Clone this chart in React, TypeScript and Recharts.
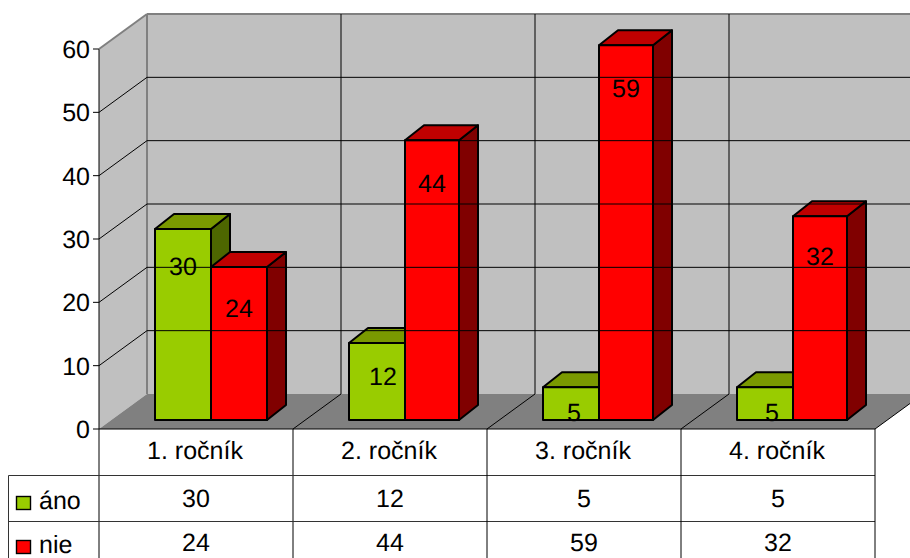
import { Bar, BarChart, XAxis, YAxis } from "recharts";

const categories = ["1. ročník", "2. ročník", "3. ročník", "4. ročník"];
const anoValues = [30, 12, 5, 5];
const nieValues = [24, 44, 59, 32];
const yTicks = [0, 10, 20, 30, 40, 50, 60];

const FONT = "'Liberation Sans', Arial, sans-serif";
const FONT_SIZE = 25;

const WIDTH = 910;
const HEIGHT = 558;
const LEFT = 99;
const RIGHT = 875;
const TOP = 49;
const BOTTOM = 429;
const CELL = (RIGHT - LEFT) / categories.length;

// oblique offset of the back wall, and of the bars inside the box
const DEPTH_X = 48;
const DEPTH_Y = 35;
const BAR_SHIFT_X = 15;
const BAR_SHIFT_Y = 9;
const BAR_DEPTH_X = 19;
const BAR_DEPTH_Y = 15;
const BAR_TOP_PAD = 1;

const ROW_LINES = [475.5, 521.5];
const HEADER_BASE = 459;
const ANO_BASE = 507;
const NIE_BASE = 551;

const data = categories.map((name, i) => ({ name, ano: anoValues[i], nie: nieValues[i] }));

// how far below the bar top the value sits, the old office renderer was not consistent about it
const labelDrop = (height: number) => {
  if (height < 50) return 25;
  if (height < 100) return 33;
  if (height < 160) return 41;
  if (height < 200) return 37;
  if (height < 250) return 40;
  return 43;
};
const anoLabelNudge = [0, 6, 3, 7];
const nieWidthTrim = [0, 2, 2, 2];

function bar3d(front: string, top: string, side: string, nudge: number[] = [], trim: number[] = []) {
  return function Bar3d(props: any) {
    const { value, index } = props;
    const width = props.width - (trim[index] ?? 0);
    const height = props.height + BAR_TOP_PAD;
    const x = props.x + BAR_SHIFT_X;
    const y = props.y - BAR_SHIFT_Y - BAR_TOP_PAD;
    const r = x + width;
    const b = y + height;
    const dx = BAR_DEPTH_X;
    const dy = BAR_DEPTH_Y;
    return (
      <g stroke="#000" strokeWidth={2} strokeLinejoin="round">
        <polygon points={`${r},${y} ${r + dx},${y - dy} ${r + dx},${b - dy} ${r},${b}`} fill={side} />
        <polygon points={`${x},${y} ${x + dx},${y - dy} ${r + dx},${y - dy} ${r},${y}`} fill={top} />
        <rect x={x} y={y} width={width} height={height} fill={front} />
        <text
          x={x + width / 2 + (nudge[index] ?? 0)}
          y={y + labelDrop(height) + 9}
          textAnchor="middle"
          stroke="none"
          fill="#000"
          fontSize={FONT_SIZE}
          fontFamily={FONT}
          textRendering="geometricPrecision"
        >
          {value}
        </text>
      </g>
    );
  };
}

function YTick({ x, y, payload }: any) {
  const isTop = payload.value === yTicks[yTicks.length - 1];
  const isBase = payload.value === 0;
  const lineColor = isTop ? "#808080" : "#000";
  return (
    <g>
      <line x1={LEFT - 6} x2={LEFT} y1={y} y2={y} stroke="#000" />
      {!isBase && (
        <>
          <line x1={LEFT} y1={y} x2={LEFT + DEPTH_X} y2={y - DEPTH_Y} stroke={lineColor} strokeWidth={isTop ? 2 : 1} />
          {!isTop && <line x1={LEFT + DEPTH_X} y1={y - DEPTH_Y} x2={WIDTH} y2={y - DEPTH_Y} stroke="#000" />}
        </>
      )}
      <text x={x - 1} y={y + 9} textAnchor="end" fontSize={FONT_SIZE} fontFamily={FONT} fill="#000" textRendering="geometricPrecision">
        {payload.value}
      </text>
    </g>
  );
}

function TableTick({ x, index, payload }: any) {
  const cx = x;
  const cellRight = cx + CELL / 2;
  const isLast = index === categories.length - 1;
  return (
    <g fontFamily={FONT} fontSize={FONT_SIZE} fill="#000" textAnchor="middle" textRendering="geometricPrecision">
      <line x1={cellRight} y1={BOTTOM} x2={cellRight} y2={HEIGHT} stroke="#000" />
      <line x1={cellRight} y1={BOTTOM} x2={cellRight + DEPTH_X} y2={BOTTOM - DEPTH_Y} stroke="#000" />
      {!isLast && <line x1={cellRight + DEPTH_X} y1={BOTTOM - DEPTH_Y} x2={cellRight + DEPTH_X} y2={14} stroke="#000" />}
      <text x={cx - 1} y={HEADER_BASE}>{payload.value}</text>
      <text x={cx} y={ANO_BASE}>{anoValues[index]}</text>
      <text x={cx} y={NIE_BASE}>{nieValues[index]}</text>
      {index === 0 && (
        <g textAnchor="start">
          <line x1={LEFT} y1={TOP} x2={LEFT} y2={HEIGHT} stroke="#000" />
          <line x1={LEFT} y1={BOTTOM} x2={RIGHT} y2={BOTTOM} stroke="#000" />
          {ROW_LINES.map((ly) => (
            <line key={ly} x1={8.5} y1={ly} x2={RIGHT} y2={ly} stroke="#333" />
          ))}
          <line x1={8.5} y1={ROW_LINES[0]} x2={8.5} y2={HEIGHT} stroke="#333" />
          <rect x={16.5} y={496.5} width={14} height={13} fill="#99cc00" stroke="#000" strokeWidth={1.4} />
          <rect x={16.5} y={540.5} width={14} height={13} fill="#ff0000" stroke="#000" strokeWidth={1.4} />
          <text x={39} y={509}>áno</text>
          <text x={39} y={553}>nie</text>
        </g>
      )}
    </g>
  );
}

function Backdrop() {
  const bx = LEFT + DEPTH_X;
  const by = BOTTOM - DEPTH_Y;
  const ty = TOP - DEPTH_Y;
  return (
    <svg width={WIDTH} height={HEIGHT} style={{ position: "absolute", left: 0, top: 0 }}>
      <rect x={bx} y={ty} width={WIDTH - bx} height={by - ty} fill="#c0c0c0" />
      <polygon points={`${LEFT},${TOP} ${bx},${ty} ${bx},${by} ${LEFT},${BOTTOM}`} fill="#c0c0c0" />
      <polygon points={`${LEFT},${BOTTOM} ${bx},${by} ${RIGHT + DEPTH_X},${by} ${RIGHT},${BOTTOM}`} fill="#808080" />
      <line x1={bx} y1={ty} x2={bx} y2={by} stroke="#808080" strokeWidth={2} />
      <line x1={bx} y1={ty} x2={WIDTH} y2={ty} stroke="#808080" strokeWidth={2} />
    </svg>
  );
}

export default function App() {
  return (
    <div style={{ position: "absolute", left: 0, top: 0, width: WIDTH, height: HEIGHT, overflow: "hidden", background: "#fff" }}>
      <Backdrop />
      <BarChart
        width={WIDTH}
        height={HEIGHT}
        data={data}
        margin={{ top: TOP, right: WIDTH - RIGHT, bottom: 0, left: 0 }}
        barSize={56}
        barGap={0}
        style={{ position: "absolute", left: 0, top: 0 }}
      >
        <XAxis dataKey="name" height={HEIGHT - BOTTOM} axisLine={false} tickLine={false} interval={0} tick={<TableTick />} />
        <YAxis width={LEFT} domain={[0, 60]} ticks={yTicks} axisLine={false} tickLine={false} interval={0} tick={<YTick />} />
        <Bar dataKey="ano" isAnimationActive={false} shape={bar3d("#99cc00", "#7a9900", "#4d6600", anoLabelNudge)} />
        <Bar dataKey="nie" isAnimationActive={false} shape={bar3d("#ff0000", "#c00000", "#800000", [], nieWidthTrim)} />
      </BarChart>
    </div>
  );
}
